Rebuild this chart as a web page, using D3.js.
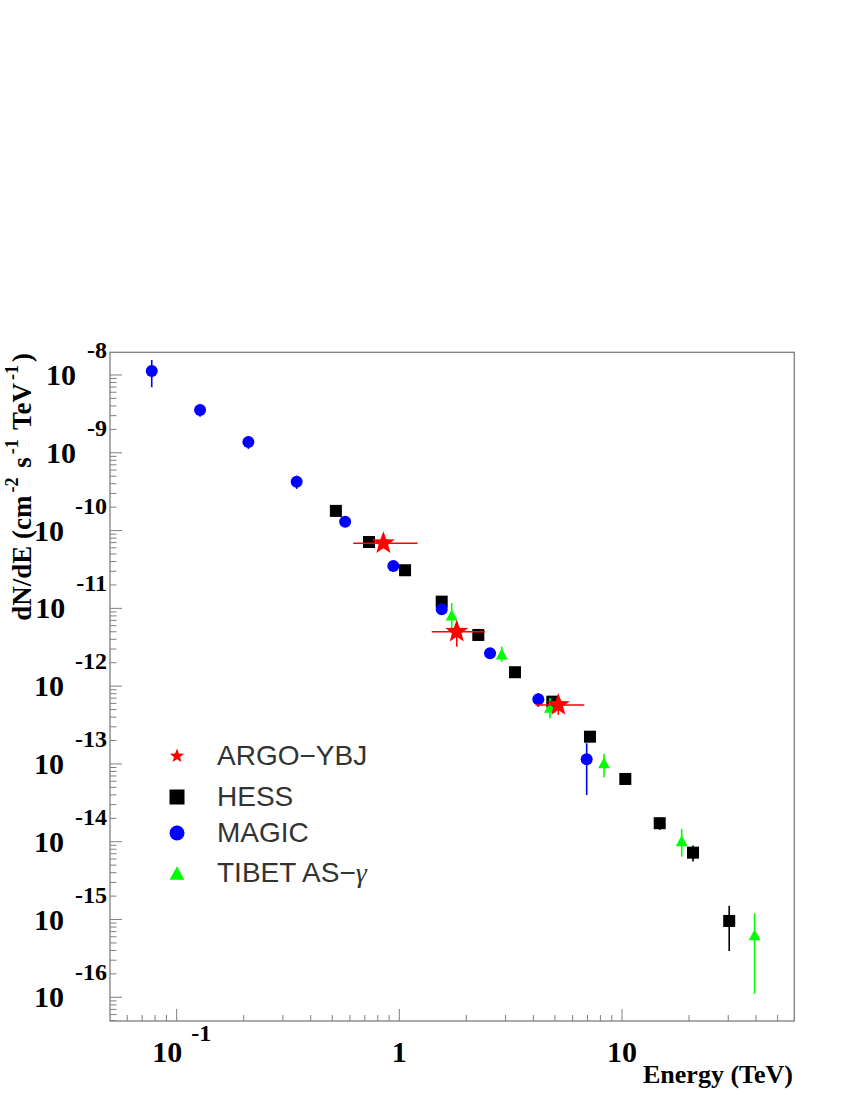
<!DOCTYPE html>
<html>
<head>
<meta charset="utf-8">
<script src="https://cdn.jsdelivr.net/npm/d3@7"></script>
<style>
  html, body { margin: 0; padding: 0; background: #fff; }
  svg { display: block; }
</style>
</head>
<body>
<div id="chart"></div>
<script>
// ---------------- DATA ----------------
// Energies in TeV, fluxes dN/dE in cm^-2 s^-1 TeV^-1
const magicE   = [0.0773, 0.1274, 0.210, 0.346, 0.571, 0.940, 1.55, 2.555, 4.21, 6.94];
const magicF   = [1.126e-8, 3.55e-9, 1.377e-9, 4.25e-10, 1.30e-10, 3.51e-11, 9.74e-12, 2.65e-12, 6.79e-13, 1.148e-13];
const magicLo  = [6.95e-9, 2.91e-9, 1.12e-9, 3.43e-10, 1.20e-10, 3.25e-11, 9.0e-12, 2.45e-12, 5.41e-13, 3.99e-14];
const magicHi  = [1.56e-8, 4.19e-9, 1.634e-9, 5.07e-10, 1.40e-10, 3.77e-11, 1.05e-11, 2.85e-12, 8.17e-13, 1.845e-13];

const hessE    = [0.519, 0.731, 1.061, 1.55, 2.263, 3.307, 4.864, 7.18, 10.35, 14.77, 20.84, 30.3];
const hessF    = [1.79e-10, 7.13e-11, 3.09e-11, 1.22e-11, 4.55e-12, 1.51e-12, 6.32e-13, 2.24e-13, 6.41e-14, 1.73e-14, 7.24e-15, 9.59e-16];
const hessLo   = [1.70e-10, 6.8e-11, 2.95e-11, 1.16e-11, 4.33e-12, 1.44e-12, 6.0e-13, 2.13e-13, 6.1e-14, 1.42e-14, 5.55e-15, 3.94e-16];
const hessHi   = [1.88e-10, 7.5e-11, 3.23e-11, 1.28e-11, 4.77e-12, 1.58e-12, 6.6e-13, 2.35e-13, 6.7e-14, 2.04e-14, 8.93e-15, 1.50e-15];

const tibetE   = [1.719, 2.884, 4.75, 8.30, 18.54, 39.4];
const tibetF   = [8.22e-12, 2.59e-12, 5.32e-13, 1.03e-13, 1.03e-14, 6.34e-16];
const tibetLo  = [5.6e-12, 2.05e-12, 3.86e-13, 6.75e-14, 6.43e-15, 1.11e-16];
const tibetHi  = [1.17e-11, 3.22e-12, 7.05e-13, 1.35e-13, 1.46e-14, 1.20e-15];

const argoE    = [0.848, 1.811, 5.176];
const argoELo  = [0.621, 1.398, 4.09];
const argoEHi  = [1.207, 2.426, 6.77];
const argoF    = [6.87e-11, 5.01e-12, 5.73e-13];
const argoLo   = [6.3e-11, 3.22e-12, 4.27e-13];
const argoHi   = [7.4e-11, 6.74e-12, 7.19e-13];

const legendLabels = ["ARGO\u2212YBJ", "HESS", "MAGIC", "TIBET AS\u2212"];
const xMajorTicks = [0.1, 1, 10];
const xTickLabels = [["10", "-1"], ["1", ""], ["10", ""]];
const yExponents  = [-8, -9, -10, -11, -12, -13, -14, -15, -16];
const xTitle = "Energy (TeV)";

// ---------------- LAYOUT ----------------
const W = 850, H = 1100;
const svg = d3.select("#chart").append("svg").attr("width", W).attr("height", H);

const x = d3.scaleLog().domain([0.0502, 59.4]).range([110, 794.3]);
const y = d3.scaleLog().domain([4.96e-17, 1.957e-8]).range([1021, 352.3]);

const axisColor = "#7f7f7f";
const serif = "'Liberation Serif', 'Times New Roman', serif";
const sans  = "'Liberation Sans', Arial, Helvetica, sans-serif";

// frame
const [x0, x1] = x.range();
const [yb, yt] = y.range();
svg.append("rect").attr("x", x0).attr("y", yt).attr("width", x1 - x0).attr("height", yb - yt)
  .attr("fill", "none").attr("stroke", axisColor).attr("stroke-width", 1.3);

// x ticks
const xMinor = [];
[0.01, 0.1, 1, 10].forEach(d => { for (let k = 2; k <= 9; k++) { const v = d * k; if (v > x.domain()[0] && v < x.domain()[1]) xMinor.push(v); } });
const gx = svg.append("g");
gx.selectAll("line.mn").data(xMinor).join("line")
  .attr("x1", d => x(d)).attr("x2", d => x(d)).attr("y1", yb).attr("y2", yb - 6)
  .attr("stroke", axisColor).attr("stroke-width", 1);
gx.selectAll("line.mj").data(xMajorTicks).join("line")
  .attr("x1", d => x(d)).attr("x2", d => x(d)).attr("y1", yb).attr("y2", yb - 12)
  .attr("stroke", axisColor).attr("stroke-width", 1);

// y ticks
const yMinor = [];
for (let e = -17; e <= -8; e++) { for (let k = 2; k <= 9; k++) { const v = k * Math.pow(10, e); if (v > y.domain()[0] && v < y.domain()[1]) yMinor.push(v); } }
const gy = svg.append("g");
gy.selectAll("line.mn").data(yMinor).join("line")
  .attr("x1", x0).attr("x2", x0 + 6.5).attr("y1", d => y(d)).attr("y2", d => y(d))
  .attr("stroke", axisColor).attr("stroke-width", 1);
gy.selectAll("line.mj").data(yExponents).join("line")
  .attr("x1", x0).attr("x2", x0 + 12).attr("y1", d => y(Math.pow(10, d))).attr("y2", d => y(Math.pow(10, d)))
  .attr("stroke", axisColor).attr("stroke-width", 1);

// y tick labels
yExponents.forEach(e => {
  const t = svg.append("text").attr("x", 107).attr("y", y(Math.pow(10, e)) + 10)
    .attr("text-anchor", "end").attr("font-family", serif).attr("font-weight", "bold").attr("fill", "#000");
  t.append("tspan").attr("font-size", 30).text("10");
  t.append("tspan").attr("font-size", 24).attr("dx", 11).attr("dy", -27).text(String(e));
});

// x tick labels
xMajorTicks.forEach((v, i) => {
  const [base, ex] = xTickLabels[i];
  const t = svg.append("text").attr("x", x(v) + (ex ? 5 : 0)).attr("y", yb + 41)
    .attr("text-anchor", "middle").attr("font-family", serif).attr("font-weight", "bold").attr("fill", "#000");
  t.append("tspan").attr("font-size", 30).text(base);
  if (ex) t.append("tspan").attr("font-size", 24).attr("dx", 9).attr("dy", -21).text(ex);
});

// axis titles
svg.append("text").attr("x", 793).attr("y", 1083).attr("text-anchor", "end")
  .attr("font-family", serif).attr("font-weight", "bold").attr("font-size", 26).text(xTitle);

const yt_ = svg.append("text").attr("transform", "rotate(-90)").attr("x", -353).attr("y", 31)
  .attr("text-anchor", "end").attr("font-family", serif).attr("font-weight", "bold").attr("font-size", 27);
const parts = [["dN/dE (cm", 0, 0, 27], ["-2", -13, 3, 18], [" s", 13, 3, 27], ["-1", -13, 3, 18], [" TeV", 13, 3, 27], ["-1", -13, 3, 18], [")", 13, 3, 27]];
parts.forEach(([txt, dy, dx, fs]) => { yt_.append("tspan").attr("dy", dy).attr("dx", dx).attr("font-size", fs).text(txt); });

// ---------------- MARKERS ----------------
function starPath(R, r) {
  const pts = [];
  for (let i = 0; i < 10; i++) {
    const a = -Math.PI / 2 + i * Math.PI / 5;
    const rr = i % 2 === 0 ? R : r;
    pts.push([rr * Math.cos(a), rr * Math.sin(a)]);
  }
  return "M" + pts.map(p => p.join(",")).join("L") + "Z";
}
function triPath(s) {
  const h = s * 0.9;
  return `M0,${-h / 2}L${s / 2},${h / 2}L${-s / 2},${h / 2}Z`;
}

const plot = svg.append("g");
function errV(g, E, lo, hi, color) {
  g.selectAll(null).data(E).join("line")
    .attr("x1", (d) => x(d)).attr("x2", (d) => x(d))
    .attr("y1", (d, i) => y(lo[i])).attr("y2", (d, i) => y(hi[i]))
    .attr("stroke", color).attr("stroke-width", 1.6);
}

// HESS
const gH = plot.append("g");
errV(gH, hessE, hessLo, hessHi, "#000");
gH.selectAll("rect").data(hessE).join("rect")
  .attr("x", d => x(d) - 6).attr("y", (d, i) => y(hessF[i]) - 6)
  .attr("width", 12).attr("height", 12).attr("fill", "#000");

// MAGIC
const gM = plot.append("g");
errV(gM, magicE, magicLo, magicHi, "#0000ff");
gM.selectAll("circle").data(magicE).join("circle")
  .attr("cx", d => x(d)).attr("cy", (d, i) => y(magicF[i])).attr("r", 6).attr("fill", "#0000ff");

// TIBET
const gT = plot.append("g");
errV(gT, tibetE, tibetLo, tibetHi, "#00ff00");
gT.selectAll("path").data(tibetE).join("path")
  .attr("transform", (d, i) => `translate(${x(d)},${y(tibetF[i])})`)
  .attr("d", triPath(12)).attr("fill", "#00ff00");

// ARGO
const gA = plot.append("g");
errV(gA, argoE, argoLo, argoHi, "#ff0000");
gA.selectAll("line.h").data(argoE).join("line")
  .attr("x1", (d, i) => x(argoELo[i])).attr("x2", (d, i) => x(argoEHi[i]))
  .attr("y1", (d, i) => y(argoF[i])).attr("y2", (d, i) => y(argoF[i]))
  .attr("stroke", "#ff0000").attr("stroke-width", 1.6);
gA.selectAll("path").data(argoE).join("path")
  .attr("transform", (d, i) => `translate(${x(d)},${y(argoF[i])})`)
  .attr("d", starPath(12, 5)).attr("fill", "#ff0000");

// ---------------- LEGEND ----------------
const legX = 177, legTextX = 217;
const legY = [756, 797, 833, 873];
const leg = svg.append("g");
const colors = ["#ff0000", "#000", "#0000ff", "#00ff00"];
leg.append("path").attr("transform", `translate(${legX},${legY[0]})`).attr("d", starPath(7.5, 3.2)).attr("fill", colors[0]);
leg.append("rect").attr("x", legX - 7.5).attr("y", legY[1] - 7.5).attr("width", 15).attr("height", 15).attr("fill", colors[1]);
leg.append("circle").attr("cx", legX).attr("cy", legY[2]).attr("r", 7.5).attr("fill", colors[2]);
leg.append("path").attr("transform", `translate(${legX},${legY[3]})`).attr("d", triPath(15)).attr("fill", colors[3]);
legendLabels.forEach((lab, i) => {
  const t = leg.append("text").attr("x", legTextX).attr("y", legY[i] + 9)
    .attr("font-family", sans).attr("font-size", 28).attr("fill", "#333").text(lab);
  if (i === 3) t.append("tspan").attr("font-family", serif).attr("font-style", "italic").text("\u03b3");
});
</script>
</body>
</html>
